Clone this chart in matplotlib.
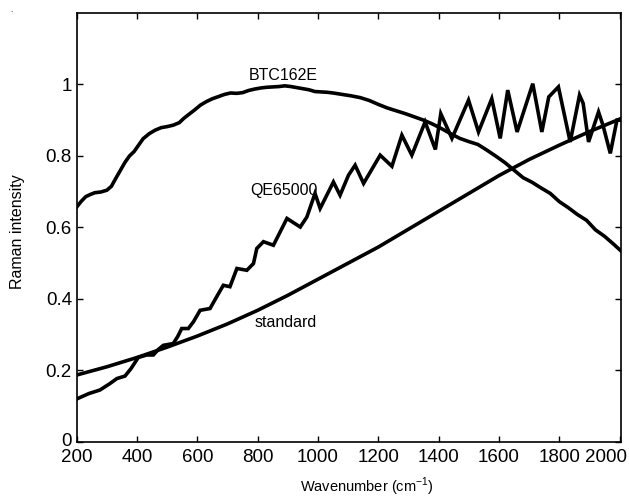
import matplotlib
matplotlib.use("Agg")
import matplotlib.pyplot as plt
import matplotlib.transforms as mtransforms

plt.rcParams['font.family'] = ['Liberation Sans', 'DejaVu Sans']
plt.rcParams['mathtext.fontset'] = 'custom'
plt.rcParams['mathtext.rm'] = 'Liberation Sans'

# BTC162E spectrometer response
btc_x = [200, 215, 230, 245, 260, 280, 300, 315, 330, 345, 360, 375, 390, 405, 420,
         440, 460, 480, 500, 520, 540, 555, 570, 590, 610, 630, 650, 670, 690, 710,
         730, 750, 770, 790, 810, 830, 850, 870, 890, 910, 930, 950, 970, 990, 1010,
         1030, 1050, 1080, 1110, 1140, 1170, 1200, 1230, 1260, 1290, 1320, 1350, 1380,
         1410, 1440, 1470, 1500, 1530, 1560, 1590, 1620, 1650, 1680, 1710, 1740, 1770,
         1800, 1830, 1860, 1890, 1920, 1950, 1980, 2006]
btc_y = [0.657, 0.673, 0.686, 0.692, 0.697, 0.699, 0.704, 0.715, 0.738, 0.760, 0.782,
         0.800, 0.812, 0.830, 0.848, 0.862, 0.872, 0.879, 0.882, 0.886, 0.893, 0.905,
         0.915, 0.928, 0.942, 0.952, 0.960, 0.966, 0.972, 0.976, 0.975, 0.977, 0.983,
         0.987, 0.990, 0.992, 0.993, 0.994, 0.996, 0.994, 0.991, 0.988, 0.985, 0.980,
         0.979, 0.978, 0.976, 0.972, 0.968, 0.963, 0.955, 0.944, 0.934, 0.926, 0.918,
         0.909, 0.900, 0.889, 0.876, 0.862, 0.849, 0.840, 0.832, 0.816, 0.799, 0.781,
         0.760, 0.739, 0.726, 0.710, 0.695, 0.672, 0.655, 0.636, 0.620, 0.593, 0.575,
         0.553, 0.533]

# QE65000 spectrometer response
qe_x = [200, 240, 277, 310, 333, 360, 380, 404, 432, 454, 470, 487, 520, 535, 548,
        570, 587, 609, 642, 664, 686, 708, 731, 764, 786, 797, 819, 852, 897, 941,
        963, 990, 1007, 1051, 1073, 1101, 1123, 1151, 1206, 1245, 1278, 1311, 1355,
        1389, 1407, 1444, 1499, 1532, 1576, 1604, 1629, 1660, 1712, 1742, 1765, 1797,
        1836, 1867, 1879, 1897, 1930, 1945, 1969, 1991, 2006]
qe_y = [0.120, 0.135, 0.145, 0.163, 0.177, 0.184, 0.205, 0.236, 0.243, 0.243, 0.258,
        0.270, 0.275, 0.295, 0.317, 0.317, 0.336, 0.368, 0.373, 0.406, 0.438, 0.434,
        0.485, 0.480, 0.499, 0.541, 0.560, 0.550, 0.625, 0.601, 0.629, 0.695, 0.653,
        0.727, 0.690, 0.746, 0.774, 0.723, 0.802, 0.771, 0.858, 0.802, 0.895, 0.818,
        0.918, 0.849, 0.956, 0.867, 0.960, 0.849, 0.984, 0.867, 1.002, 0.867, 0.965,
        0.993, 0.839, 0.970, 0.947, 0.839, 0.923, 0.885, 0.807, 0.900, 0.900]

# standard lamp curve
std_x = [200, 300, 400, 500, 600, 700, 800, 900, 1000, 1100, 1200, 1300, 1400,
         1500, 1600, 1700, 1800, 1900, 2006]
std_y = [0.187, 0.210, 0.236, 0.265, 0.296, 0.330, 0.368, 0.410, 0.455, 0.500,
         0.545, 0.595, 0.645, 0.695, 0.745, 0.790, 0.830, 0.868, 0.905]

labels = [("BTC162E", 884, 1.026), ("QE65000", 886, 0.704), ("standard", 894, 0.333)]
xticks = [200, 400, 600, 800, 1000, 1200, 1400, 1600, 1800, 2000]
yticks = [0, 0.2, 0.4, 0.6, 0.8, 1]

fig = plt.figure(figsize=(6.29, 4.97), dpi=100)
ax = fig.add_axes([0.122, 0.111, 0.866, 0.863])

for xs, ys in [(btc_x, btc_y), (qe_x, qe_y), (std_x, std_y)]:
    ax.plot(xs, ys, color='black', lw=2.6, solid_joinstyle='miter')

for txt, lx, ly in labels:
    ax.text(lx, ly, txt, fontsize=11.5, ha='center', va='center')

ax.set_xlim(200, 2006)
ax.set_ylim(0, 1.2)
ax.set_xticks(xticks)
ax.set_yticks(yticks)
ax.set_yticklabels(['0', '0.2', '0.4', '0.6', '0.8', '1'])
ax.tick_params(direction='in', top=True, right=True, length=4.5, width=1,
               labelsize=13.5)
ax.tick_params(axis='x', pad=5.5)
ax.tick_params(axis='y', pad=3.5)
for s in ax.spines.values():
    s.set_linewidth(1.2)

# last x label is pulled inside the figure, like the original
last = ax.get_xticklabels()[-1]
last.set_transform(last.get_transform() +
                   mtransforms.ScaledTranslation(-14 / 100, 0, fig.dpi_scale_trans))
# "0" on the y axis sits a little higher so it clears "200"
zero = ax.get_yticklabels()[0]
zero.set_transform(zero.get_transform() +
                   mtransforms.ScaledTranslation(0, 2 / 100, fig.dpi_scale_trans))

ax.set_xlabel('Wavenumber (cm$^{-1}$)', fontsize=10.5)
ax.xaxis.set_label_coords(0.533, -0.08)
ax.set_ylabel('Raman intensity', fontsize=11.5)
ax.yaxis.set_label_coords(-0.095, 0.49)

fig.text(0.016, 0.975, '.', fontsize=6)

fig.savefig('out.png', dpi=100)
